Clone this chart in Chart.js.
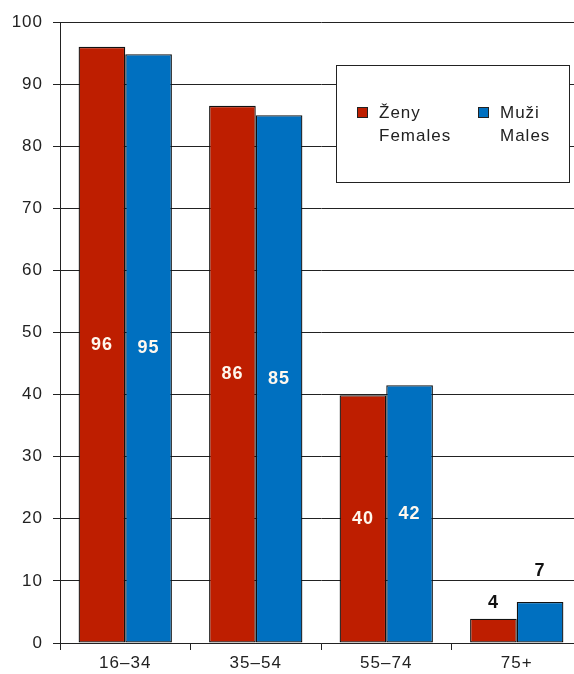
<!DOCTYPE html>
<html>
<head>
<meta charset="utf-8">
<script src="https://cdn.jsdelivr.net/npm/chart.js@4/dist/chart.umd.min.js"></script>
<style>
  html, body { margin: 0; padding: 0; background: #fff; overflow: hidden; }
  #wrap { width: 590px; height: 674px; }
</style>
</head>
<body>
<div id="wrap"><canvas id="barChart" width="590" height="674"></canvas></div>
<script>
// age groups and shares (%)
const categories = ['16–34', '35–54', '55–74', '75+'];
const femaleValues = [96, 86.5, 39.9, 3.9];
const maleValues = [94.8, 85, 41.5, 6.6];
const femaleLabels = ['96', '86', '40', '4'];
const maleLabels = ['95', '85', '42', '7'];
const seriesNames = [['Ženy', 'Females'], ['Muži', 'Males']];
const yTicks = [0, 10, 20, 30, 40, 50, 60, 70, 80, 90, 100];

const RED = '#be1e00';
const BLUE = '#0070c0';
const FONT = '"Liberation Sans", Arial, sans-serif';

// value labels: white in the middle of tall bars, black above short ones
const barLabels = {
  id: 'barLabels',
  afterDatasetsDraw(chart) {
    const ctx = chart.ctx;
    const yScale = chart.scales.y;
    ctx.save();
    ctx.textAlign = 'center';
    ctx.textBaseline = 'middle';
    ctx.font = 'bold 18px ' + FONT;
    chart.data.datasets.forEach((ds, i) => {
      chart.getDatasetMeta(i).data.forEach((bar, j) => {
        const text = ds.valueLabels[j];
        const height = bar.base - bar.y;
        let y;
        if (height > 60) {
          ctx.fillStyle = '#fff8ee';
          y = bar.y + height / 2;
        } else {
          ctx.fillStyle = '#111';
          y = bar.y - 16;
          // keep the label clear of a gridline
          yTicks.forEach(t => {
            const gy = yScale.getPixelForValue(t);
            if (Math.abs(gy - y) < 11) y = gy - 10;
          });
        }
        ctx.fillText(text, bar.x, y);
      });
    });
    ctx.restore();
  }
};

// boxed legend inside the plot with two-line names
const boxLegend = {
  id: 'boxLegend',
  afterDraw(chart) {
    const ctx = chart.ctx;
    const a = chart.chartArea;
    const x0 = a.left + 276, y0 = a.top + 43, w = 233, h = 117;
    ctx.save();
    ctx.fillStyle = '#fff';
    ctx.fillRect(x0, y0, w, h);
    ctx.strokeStyle = '#222';
    ctx.lineWidth = 1;
    ctx.strokeRect(x0 + 0.5, y0 + 0.5, w, h);
    ctx.font = '17px ' + FONT;
    ctx.letterSpacing = '1px';
    ctx.textBaseline = 'middle';
    ctx.textAlign = 'left';
    chart.data.datasets.forEach((ds, i) => {
      const ix = x0 + 21 + i * 121;
      const iy = y0 + 42;
      ctx.fillStyle = ds.backgroundColor;
      ctx.fillRect(ix, iy, 11, 11);
      ctx.strokeStyle = '#222';
      ctx.strokeRect(ix + 0.5, iy + 0.5, 10, 10);
      ctx.fillStyle = '#222';
      seriesNames[i].forEach((line, k) => {
        ctx.fillText(line, ix + 22, iy + 6 + k * 23);
      });
    });
    ctx.restore();
  }
};

// wider glyph spacing for the axis labels
const spacedText = {
  id: 'spacedText',
  beforeDraw(chart) { chart.ctx.letterSpacing = '1px'; },
  afterDraw(chart) { chart.ctx.letterSpacing = '0px'; }
};

const ctx = document.getElementById('barChart').getContext('2d');

const barChart = new Chart(ctx, {
  type: 'bar',
  data: {
    labels: categories,
    datasets: [
      {
        label: seriesNames[0].join(' '),
        data: femaleValues,
        valueLabels: femaleLabels,
        backgroundColor: RED,
        borderColor: '#111',
        borderWidth: 1.3,
        borderSkipped: false,
        categoryPercentage: 0.715,
        barPercentage: 1.0
      },
      {
        label: seriesNames[1].join(' '),
        data: maleValues,
        valueLabels: maleLabels,
        backgroundColor: BLUE,
        borderColor: '#111',
        borderWidth: 1.3,
        borderSkipped: false,
        categoryPercentage: 0.715,
        barPercentage: 1.0
      }
    ]
  },
  options: {
    responsive: false,
    animation: false,
    devicePixelRatio: 1,
    layout: { padding: { top: 22, right: 8, left: 0, bottom: 0 } },
    plugins: {
      legend: { display: false },
      tooltip: { enabled: false }
    },
    scales: {
      x: {
        grid: {
          display: true,
          drawOnChartArea: false,
          drawTicks: true,
          tickLength: 7,
          color: '#222',
          offset: true
        },
        border: { display: true, color: '#222', width: 1 },
        ticks: {
          color: '#222',
          font: { family: FONT, size: 17 },
          padding: 3
        },
        afterFit(scale) { scale.height = 31; }
      },
      y: {
        min: 0,
        max: 100,
        afterBuildTicks(scale) {
          scale.ticks = yTicks.map(v => ({ value: v }));
        },
        grid: {
          color: '#222',
          lineWidth: 1,
          drawTicks: true,
          tickLength: 7
        },
        border: { display: true, color: '#222', width: 1 },
        ticks: {
          color: '#222',
          font: { family: FONT, size: 17 },
          padding: 10
        },
        afterFit(scale) { scale.width = 60; }
      }
    }
  },
  plugins: [spacedText, barLabels, boxLegend]
});
</script>
</body>
</html>
